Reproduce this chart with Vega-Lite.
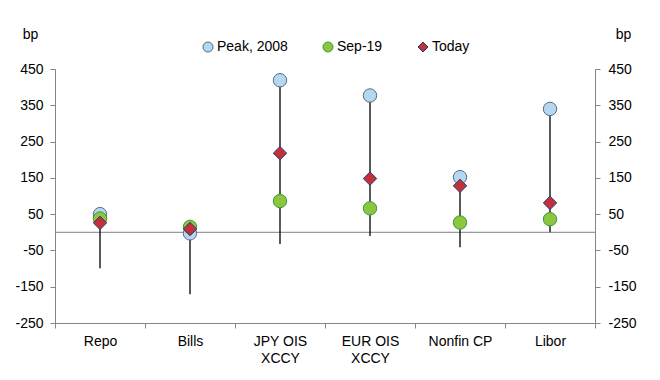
{
  "$schema": "https://vega.github.io/schema/vega-lite/v6.json",
  "width": 540,
  "height": 254,
  "autosize": {"type": "none"},
  "padding": {"left": 55, "top": 69, "right": 65, "bottom": 57},
  "background": "white",
  "config": {
    "view": {"stroke": null},
    "font": "Liberation Sans",
    "axis": {
      "grid": false,
      "domainColor": "#868686",
      "tickColor": "#868686",
      "labelColor": "#000000",
      "labelFont": "Liberation Sans",
      "labelFontSize": 14,
      "titleFont": "Liberation Sans",
      "titleFontSize": 14,
      "titleFontWeight": "normal",
      "titleColor": "#000000",
      "tickSize": 5,
      "labelOverlap": false
    },
    "legend": {"labelFont": "Liberation Sans", "labelFontSize": 14, "labelColor": "#000000"}
  },
  "datasets": {
    "ranges": [
      {"cat": "Repo", "low": -99, "high": 50},
      {"cat": "Bills", "low": -171, "high": 15},
      {"cat": "JPY OIS|XCCY", "low": -32, "high": 419},
      {"cat": "EUR OIS|XCCY", "low": -10, "high": 377},
      {"cat": "Nonfin CP", "low": -41, "high": 152},
      {"cat": "Libor", "low": 0, "high": 340}
    ],
    "points": [
      {"cat": "Repo", "series": "Peak, 2008", "value": 50},
      {"cat": "Bills", "series": "Peak, 2008", "value": -3},
      {"cat": "JPY OIS|XCCY", "series": "Peak, 2008", "value": 419},
      {"cat": "EUR OIS|XCCY", "series": "Peak, 2008", "value": 377},
      {"cat": "Nonfin CP", "series": "Peak, 2008", "value": 152},
      {"cat": "Libor", "series": "Peak, 2008", "value": 340},
      {"cat": "Repo", "series": "Sep-19", "value": 38},
      {"cat": "Bills", "series": "Sep-19", "value": 15},
      {"cat": "JPY OIS|XCCY", "series": "Sep-19", "value": 86},
      {"cat": "EUR OIS|XCCY", "series": "Sep-19", "value": 66},
      {"cat": "Nonfin CP", "series": "Sep-19", "value": 27},
      {"cat": "Libor", "series": "Sep-19", "value": 36},
      {"cat": "Repo", "series": "Today", "value": 26},
      {"cat": "Bills", "series": "Today", "value": 9},
      {"cat": "JPY OIS|XCCY", "series": "Today", "value": 218},
      {"cat": "EUR OIS|XCCY", "series": "Today", "value": 148},
      {"cat": "Nonfin CP", "series": "Today", "value": 128},
      {"cat": "Libor", "series": "Today", "value": 81}
    ],
    "zero": [{"z": 0}]
  },
  "resolve": {"scale": {"y": "independent"}},
  "layer": [
    {
      "encoding": {
        "x": {
          "field": "cat",
          "type": "nominal",
          "scale": {
            "type": "band",
            "domain": ["Repo", "Bills", "JPY OIS|XCCY", "EUR OIS|XCCY", "Nonfin CP", "Libor"],
            "paddingInner": 0,
            "paddingOuter": 0
          },
          "axis": {
            "title": null,
            "labelAngle": 0,
            "tickBand": "extent",
            "labelPadding": 6,
            "labelExpr": "split(datum.label, '|')",
            "labelLineHeight": 17,
            "labelBaseline": "top"
          }
        }
      },
      "layer": [
        {
          "data": {"name": "zero"},
          "mark": {"type": "rule", "color": "#808080", "strokeWidth": 1},
          "encoding": {
            "x": null,
            "y": {
              "field": "z",
              "type": "quantitative",
              "scale": {"domain": [-250, 450], "nice": false, "zero": false},
              "axis": {
                "title": "bp",
                "titleAngle": 0,
                "titleX": -25,
                "titleY": -35,
                "titleAlign": "center",
                "titleBaseline": "middle",
                "values": [-250, -150, -50, 50, 150, 250, 350, 450],
                "labelExpr": "'' + datum.value",
                "labelOverlap": false,
                "labelPadding": 7
              }
            }
          }
        },
        {
          "data": {"name": "ranges"},
          "mark": {"type": "rule", "color": "#000000", "strokeWidth": 1.3},
          "encoding": {
            "y": {
              "field": "low",
              "type": "quantitative",
              "scale": {"domain": [-250, 450], "nice": false, "zero": false},
              "axis": {
                "title": "bp",
                "titleAngle": 0,
                "titleX": -25,
                "titleY": -35,
                "titleAlign": "center",
                "titleBaseline": "middle",
                "values": [-250, -150, -50, 50, 150, 250, 350, 450],
                "labelExpr": "'' + datum.value",
                "labelOverlap": false,
                "labelPadding": 7
              }
            },
            "y2": {"field": "high"}
          }
        },
        {
          "data": {"name": "points"},
          "mark": {"type": "point", "filled": true, "opacity": 1, "strokeWidth": 1, "size": 180},
          "encoding": {
            "y": {
              "field": "value",
              "type": "quantitative",
              "scale": {"domain": [-250, 450], "nice": false, "zero": false},
              "axis": {
                "title": "bp",
                "titleAngle": 0,
                "titleX": -25,
                "titleY": -35,
                "titleAlign": "center",
                "titleBaseline": "middle",
                "values": [-250, -150, -50, 50, 150, 250, 350, 450],
                "labelExpr": "'' + datum.value",
                "labelOverlap": false,
                "labelPadding": 7
              }
            },
            "fill": {
              "field": "series",
              "type": "nominal",
              "scale": {"domain": ["Peak, 2008", "Sep-19", "Today"], "range": ["#B4D8F1", "#8CC63F", "#C0313A"]},
              "legend": {
                "title": null,
                "orient": "none",
                "direction": "horizontal",
                "legendX": 146,
                "legendY": -29,
                "symbolSize": 100,
                "labelOffset": 2,
                "columnPadding": 33,
                "symbolStrokeWidth": 1
              }
            },
            "stroke": {
              "field": "series",
              "type": "nominal",
              "scale": {"domain": ["Peak, 2008", "Sep-19", "Today"], "range": ["#5B6B7B", "#3C9A3C", "#2B3A78"]}
            },
            "shape": {
              "field": "series",
              "type": "nominal",
              "scale": {"domain": ["Peak, 2008", "Sep-19", "Today"], "range": ["circle", "circle", "diamond"]}
            }
          }
        }
      ]
    },
    {
      "data": {"name": "zero"},
      "mark": {"type": "point", "opacity": 0},
      "encoding": {
        "y": {
          "field": "z",
          "type": "quantitative",
          "scale": {"domain": [-250, 450], "nice": false, "zero": false},
          "axis": {
            "orient": "right",
            "title": "bp",
            "titleAngle": 0,
            "titleX": 28,
            "titleY": -35,
            "titleAlign": "center",
            "titleBaseline": "middle",
            "values": [-250, -150, -50, 50, 150, 250, 350, 450],
            "labelExpr": "'' + datum.value",
            "labelPadding": 8
          }
        }
      }
    }
  ]
}
